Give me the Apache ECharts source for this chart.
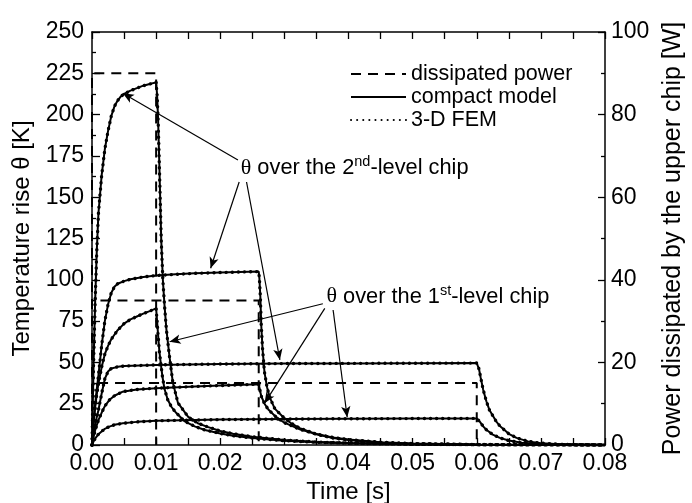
<!DOCTYPE html>
<html>
<head>
<meta charset="utf-8">
<script src="https://cdn.jsdelivr.net/npm/echarts@6.0.0/dist/echarts.min.js"></script>
<style>
html, body { margin: 0; padding: 0; background: #fff; }
#main { width: 692px; height: 503px; }
</style>
</head>
<body>
<div id="main"></div>
<script>
// time in ms, temperature rise in K
var secondChip10 = [[0,0],[0.25,50],[0.5,88],[0.75,118],[1,140],[1.5,163],[2,179],[2.5,190],[3,199],[3.5,205],[4,208.5],[4.5,211],[5,212.5],[6,214.5],[7,216],[8,217.5],[9,218.5],[10,219.5],
  [10.15,212],[10.3,198],[10.45,177],[10.55,162],[10.8,124],[11.05,100],[11.3,85],[11.6,70],[12.1,53],[12.6,38],[13.4,25.5],[15,17],[16.5,13.2],[18,11],[20,8.5],[22,6.8],[25,5],[30,3],[35,1.8],[40,1.2],[50,0.5],[60,0.2],[80,0]];
var firstChip10 = [[0,0],[0.25,13],[0.5,23],[0.75,31],[1,37],[1.5,47],[2,55],[2.5,60],[3,64],[4,69.5],[5,73.5],[6,76],[7,77.8],[8,79.5],[9,81],[10,82.7],
  [10.15,75],[10.3,67],[10.5,57],[10.8,47],[11,41],[11.3,34],[11.8,27.5],[12.4,23],[13,20],[14.4,14.5],[16,11.3],[17.6,9.1],[20,7],[22,5.6],[25,4.2],[30,2.6],[35,1.6],[40,1.1],[50,0.45],[60,0.2],[80,0]];
var secondChip26 = [[0,0],[0.25,14],[0.5,25],[0.75,34],[1,42],[1.5,60],[2,75],[2.5,85],[3,92],[3.5,95.8],[4,97.6],[5,99.2],[6,100.3],[8,101.7],[10,102.6],[13,103.3],[16,103.9],[20,104.4],[26,105],
  [26.1,101],[26.25,90],[26.4,72],[26.6,58],[26.9,44],[27.3,35],[27.7,29],[28.5,22],[29.8,17],[31,13.3],[32.4,10.2],[35,6.5],[37.6,4.2],[40,3],[45,1.4],[50,0.7],[60,0.2],[80,0]];
var firstChip26 = [[0,0],[0.25,5],[0.5,9],[1,15],[1.5,19.5],[2,23.5],[2.7,27.2],[3.5,29.8],[4.8,32.3],[7,33.6],[10,34.4],[16,35.4],[20,36],[26,36.8],
  [26.2,33],[26.4,29.5],[26.9,25],[27.5,21.5],[28.7,17],[30,13.5],[32.4,9.5],[35,6.6],[37.5,4.6],[40,3.3],[45,1.7],[50,0.9],[60,0.3],[80,0]];
var secondChip60 = [[0,0],[0.25,7],[0.5,12],[0.75,17],[1,21],[1.5,31],[2,40],[2.5,44.5],[3,46.3],[4,47.3],[5,47.8],[10,48.5],[20,49],[30,49.3],[40,49.4],[50,49.5],[60,49.6],
  [60.15,48],[60.35,46],[60.6,41],[61,33.5],[61.5,26.5],[62,21],[63,14.5],[63.6,11.5],[65,6.8],[66.2,4.3],[68,2.2],[70,1.1],[73,0.4],[80,0]];
var firstChip60 = [[0,0],[0.25,2.2],[0.5,4],[1,6.5],[1.5,8.2],[2,9.8],[2.7,11.1],[3.5,12.2],[4.8,13.1],[7,14],[10,14.7],[20,15.4],[30,15.7],[40,15.9],[50,16],[60,16.1],
  [60.2,15.2],[60.5,14],[61,11.3],[61.5,9.2],[62.5,6.3],[63.6,4.3],[65,2.7],[67,1.3],[70,0.6],[75,0.2],[80,0]];

// dissipated power pulses, ms / W
var power10 = [[0,0],[0,90],[10,90],[10,0]];
var power26 = [[0,0],[0,35],[26,35],[26,0]];
var power60 = [[0,0],[0,15],[60,15],[60,0]];

// annotations (ms, K)
var label2nd = [23.2, 167.7];
var label1st = [36.56, 89.8];
var arrows = [
  [[22.76,172.5],[4.8,212.9]],
  [[22.95,159.2],[18.5,107]],
  [[24.1,159.2],[29.3,51.5]],
  [[36.0,85.5],[12.1,62.5]],
  [[36.3,82.7],[26.9,25.2]],
  [[37.6,81.7],[39.8,16.8]]
];

var FONT = 'Liberation Sans, Arial, sans-serif';
function sec(arr) { return arr.map(function (p) { return [p[0] / 1000, p[1]]; }); }

var temps = [secondChip10, firstChip10, secondChip26, firstChip26, secondChip60, firstChip60];
var series = [];
[power10, power26, power60].forEach(function (d) {
  series.push({
    name: 'dissipated power', type: 'line', yAxisIndex: 1, symbol: 'none', z: 2,
    itemStyle: { color: '#000' },
    lineStyle: { color: '#000', width: 2, type: [10, 7] },
    data: sec(d)
  });
});
temps.forEach(function (d) {
  series.push({
    name: 'compact model', type: 'line', symbol: 'none', z: 3,
    itemStyle: { color: '#000' },
    lineStyle: { color: '#000', width: 2, type: 'solid' },
    data: sec(d)
  });
});
temps.forEach(function (d) {
  series.push({
    name: '3-D FEM', type: 'line', symbol: 'none', z: 4,
    itemStyle: { color: '#000' },
    lineStyle: { color: '#000', width: 3.4, type: [0.1, 6], cap: 'round' },
    data: sec(d)
  });
});
series[3].markLine = {
  silent: true,
  symbol: ['none', 'arrow'],
  symbolSize: [7, 11],
  label: { show: false },
  lineStyle: { color: '#000', width: 1.2, type: 'solid' },
  data: arrows.map(function (a) {
    return [{ coord: [a[0][0] / 1000, a[0][1]] }, { coord: [a[1][0] / 1000, a[1][1]] }];
  })
};

var tickStyle = { show: true, inside: true, length: 7, lineStyle: { color: '#000', width: 1.3 } };
var minorStyle = { show: true, splitNumber: 2, length: 4, lineStyle: { color: '#000', width: 1.3 } };
var lineAxis = { show: true, onZero: false, lineStyle: { color: '#000', width: 1.5 } };

var option = {
  animation: false,
  backgroundColor: '#fff',
  grid: { left: 92, right: 87, top: 32, bottom: 58, outerBoundsMode: 'none', containLabel: false },
  legend: {
    data: ['dissipated power', 'compact model', '3-D FEM'],
    orient: 'vertical',
    left: 345, top: 58,
    itemWidth: 55, itemHeight: 12, itemGap: 1,
    selectedMode: false,
    itemStyle: { opacity: 0 },
    textStyle: { fontFamily: FONT, fontSize: 21.5, color: '#000', lineHeight: 20 }
  },
  xAxis: [{
    type: 'value', min: 0, max: 0.08, interval: 0.01, position: 'bottom',
    name: 'Time [s]', nameLocation: 'middle', nameGap: 33,
    nameTextStyle: { fontFamily: FONT, fontSize: 24, color: '#000' },
    axisLine: lineAxis, axisTick: tickStyle, minorTick: { show: true, splitNumber: 2, length: 7, lineStyle: { color: '#000', width: 1.3 } },
    splitLine: { show: false },
    axisLabel: { fontFamily: FONT, fontSize: 23, color: '#000', margin: 7, formatter: function (v) { return v.toFixed(2); } }
  }, {
    type: 'value', min: 0, max: 0.08, interval: 0.01, position: 'top',
    axisLine: lineAxis, axisTick: tickStyle, minorTick: { show: true, splitNumber: 2, length: 7, lineStyle: { color: '#000', width: 1.3 } },
    splitLine: { show: false }, axisLabel: { show: false }
  }],
  yAxis: [{
    type: 'value', min: 0, max: 250, interval: 25, position: 'left',
    name: 'Temperature rise θ [K]', nameLocation: 'middle', nameGap: 54, nameRotate: 90,
    nameTextStyle: { fontFamily: FONT, fontSize: 24, color: '#000' },
    axisLine: lineAxis, axisTick: { show: true, inside: true, length: 8, lineStyle: { color: '#000', width: 1.3 } },
    minorTick: minorStyle, splitLine: { show: false },
    axisLabel: { fontFamily: FONT, fontSize: 23, color: '#000', margin: 8 }
  }, {
    type: 'value', min: 0, max: 100, interval: 20, position: 'right',
    name: 'Power dissipated by the upper chip [W]', nameLocation: 'middle', nameGap: 43, nameRotate: 90,
    nameTextStyle: { fontFamily: FONT, fontSize: 25, color: '#000' },
    axisLine: lineAxis, axisTick: tickStyle,
    minorTick: minorStyle, splitLine: { show: false },
    axisLabel: { fontFamily: FONT, fontSize: 23, color: '#000', margin: 6 }
  }],
  series: series
};

var chart = echarts.init(document.getElementById('main'), null, { renderer: 'canvas' });
chart.setOption(option);

var rich = {
  t: { fontFamily: 'Liberation Serif, serif', fontSize: 22, lineHeight: 26, color: '#000' },
  n: { fontFamily: FONT, fontSize: 21.8, lineHeight: 26, color: '#000' },
  s: { fontFamily: FONT, fontSize: 14.5, lineHeight: 26, verticalAlign: 'top', color: '#000' }
};
function note(pos, sup) {
  var p = chart.convertToPixel({ xAxisIndex: 0, yAxisIndex: 0 }, [pos[0] / 1000, pos[1]]);
  return {
    type: 'text', x: p[0], y: p[1], z: 100,
    style: {
      text: '{t|θ}{n| over the ' + sup[0] + '}{s|' + sup[1] + '}{n|-level chip}',
      rich: rich, verticalAlign: 'middle', align: 'left'
    }
  };
}
chart.setOption({ graphic: [note(label2nd, ['2', 'nd']), note(label1st, ['1', 'st'])] });
</script>
</body>
</html>
